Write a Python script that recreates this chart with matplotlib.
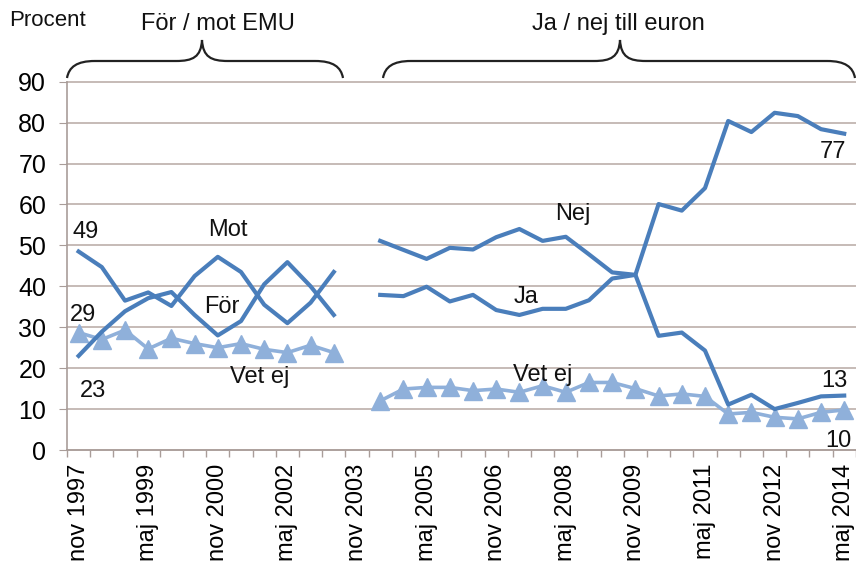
import numpy as np
import matplotlib
matplotlib.use("Agg")
import matplotlib.pyplot as plt
from matplotlib.path import Path
from matplotlib.patches import PathPatch

plt.rcParams['font.family'] = ['Liberation Sans', 'DejaVu Sans']

# ------------------- Data -------------------
# half-yearly surveys, nov 1997 .. maj 2014
periods = ["nov 1997", "maj 1998", "nov 1998", "maj 1999", "nov 1999", "maj 2000",
           "nov 2000", "maj 2001", "nov 2001", "maj 2002", "nov 2002", "maj 2003",
           "nov 2003", "maj 2004", "nov 2004", "maj 2005", "nov 2005", "maj 2006",
           "nov 2006", "maj 2007", "nov 2007", "maj 2008", "nov 2008", "maj 2009",
           "nov 2009", "maj 2010", "nov 2010", "maj 2011", "nov 2011", "maj 2012",
           "nov 2012", "maj 2013", "nov 2013", "maj 2014"]
shown_labels = ["nov 1997", "maj 1999", "nov 2000", "maj 2002", "nov 2003", "maj 2005",
                "nov 2006", "maj 2008", "nov 2009", "maj 2011", "nov 2012", "maj 2014"]

# För / mot EMU (nov 1997 .. maj 2003)
mot = [48.5, 44.7, 36.5, 38.5, 35.2, 42.5, 47.2, 43.5, 35.5, 31.0, 36.0, 43.5]
foer = [23.0, 28.9, 33.9, 37.1, 38.6, 33.0, 28.0, 31.5, 40.5, 45.9, 40.0, 33.0]
vetej_emu = [28.7, 27.0, 29.3, 24.7, 27.3, 26.0, 25.0, 26.0, 24.6, 23.8, 25.6, 23.8]

# Ja / nej till euron (maj 2004 .. maj 2014)
nej = [51.1, 48.9, 46.7, 49.4, 49.0, 52.0, 54.0, 51.1, 52.1, 47.8, 43.4,
       42.8, 60.1, 58.5, 64.0, 80.4, 77.7, 82.4, 81.6, 78.4, 77.3]
ja = [37.9, 37.6, 39.9, 36.3, 37.9, 34.2, 33.0, 34.5, 34.5, 36.6, 41.9,
      42.8, 27.9, 28.7, 24.3, 11.1, 13.5, 10.0, 11.5, 13.1, 13.3]
vetej_euro = [12.0, 14.9, 15.3, 15.3, 14.5, 14.9, 14.1, 15.7, 14.1, 16.5, 16.5,
              15.0, 13.2, 13.7, 13.1, 8.8, 9.2, 8.0, 7.6, 9.2, 9.8]

DARK = '#4a7ebb'
LIGHT = '#8fb0da'
GRID = '#bcafaa'

x = np.arange(len(periods))
x_emu = x[:len(mot)]
x_euro = x[len(periods) - len(nej):]

# ------------------- Figure -------------------
fig = plt.figure(figsize=(8.56, 5.66), dpi=100)
ax = fig.add_axes([67 / 856, 1 - 450 / 566, (855.8 - 67) / 856, (450 - 81.7) / 566])

ax.plot(x_emu, mot, color=DARK, lw=3.0, zorder=4)
ax.plot(x_emu, foer, color=DARK, lw=3.0, zorder=4)
ax.plot(x_emu, vetej_emu, color=LIGHT, lw=2.6, marker='^', ms=12.5, mec=LIGHT, zorder=3)

ax.plot(x_euro, nej, color=DARK, lw=3.0, zorder=4)
ax.plot(x_euro, ja, color=DARK, lw=3.0, zorder=4)
ax.plot(x_euro, vetej_euro, color=LIGHT, lw=2.6, marker='^', ms=12.5, mec=LIGHT, zorder=3)

ax.set_xlim(-0.5, len(periods) - 0.5)
ax.set_ylim(0, 90)
ax.set_yticks(range(0, 91, 10))
ax.yaxis.grid(True, color=GRID, lw=1.2)
ax.set_axisbelow(True)
for gl in ax.get_ygridlines():
    gl.set_clip_on(False)

for s in ['top', 'right']:
    ax.spines[s].set_visible(False)
for s in ['left', 'bottom']:
    ax.spines[s].set_color('#a99d99')
    ax.spines[s].set_linewidth(1.2)

ax.tick_params(axis='y', labelsize=18, length=6, color='#a99d99', pad=9)
label_pos = [periods.index(p) for p in shown_labels]
ax.set_xticks(label_pos)
ax.set_xticklabels(shown_labels, rotation=90, fontsize=17)
ax.set_xticks(np.arange(-0.5, len(periods), 1), minor=True)
ax.tick_params(axis='x', which='major', length=0, pad=10)
ax.tick_params(axis='x', which='minor', length=5, color='#a99d99', width=1)

# ------------------- Labels in the plot -------------------
txt = dict(fontsize=17, ha='center', va='center', color='#111111')
ax.text(0.32, 53.3, "49", **txt)
ax.text(0.19, 33.0, "29", **txt)
ax.text(0.62, 14.4, "23", **txt)
ax.text(6.44, 53.8, "Mot", **txt)
ax.text(6.18, 35.0, "För", **txt)
ax.text(7.82, 17.8, "Vet ej", **txt)
ax.text(21.3, 57.7, "Nej", **txt)
ax.text(19.3, 37.4, "Ja", **txt)
ax.text(20.0, 18.3, "Vet ej", **txt)
ax.text(32.56, 16.9, "13", **txt)
ax.text(32.73, 2.2, "10", **txt)
ax.text(32.51, 72.9, "77", **txt)

# ------------------- Header with braces -------------------
ov = fig.add_axes([0, 0, 1, 1])
ov.set_xlim(0, 856)
ov.set_ylim(566, 0)
ov.axis('off')
ov.patch.set_visible(False)


def brace(x0, x1, xm, y_end=78, y_mid=61, y_tip=40, r=28, rt=26):
    verts = [(x0, y_end), (x0 + 2, y_mid + 6), (x0 + r * 0.35, y_mid), (x0 + r, y_mid),
             (xm - rt, y_mid),
             (xm - rt * 0.35, y_mid), (xm - 1, y_mid - 4), (xm, y_tip),
             (xm + 1, y_mid - 4), (xm + rt * 0.35, y_mid), (xm + rt, y_mid),
             (x1 - r, y_mid),
             (x1 - r * 0.35, y_mid), (x1 - 2, y_mid + 6), (x1, y_end)]
    codes = [Path.MOVETO, Path.CURVE4, Path.CURVE4, Path.CURVE4,
             Path.LINETO,
             Path.CURVE4, Path.CURVE4, Path.CURVE4,
             Path.CURVE4, Path.CURVE4, Path.CURVE4,
             Path.LINETO,
             Path.CURVE4, Path.CURVE4, Path.CURVE4]
    ov.add_patch(PathPatch(Path(verts, codes), fill=False, lw=1.6, ec='#222222'))


brace(67, 343, 202)
brace(383, 855, 620)

ov.text(9, 20, "Procent", fontsize=16, ha='left', va='center', color='#111111')
ov.text(218, 24, "För / mot EMU", fontsize=17, ha='center', va='center', color='#111111')
ov.text(618, 24, "Ja / nej till euron", fontsize=17, ha='center', va='center', color='#111111')

fig.savefig("out.png", dpi=100)
